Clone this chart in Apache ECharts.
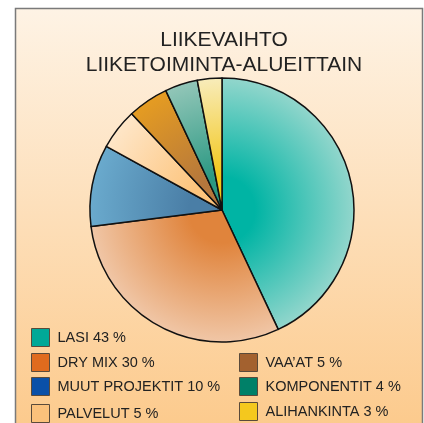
<!DOCTYPE html>
<html>
<head>
<meta charset="utf-8">
<script src="https://cdn.jsdelivr.net/npm/echarts@6/dist/echarts.min.js"></script>
<style>
  html, body { margin: 0; padding: 0; background: #fff; }
  #chart { width: 424px; height: 423px; }
</style>
</head>
<body>
<div id="chart"></div>
<script>
const titleLines = ['LIIKEVAIHTO', 'LIIKETOIMINTA-ALUEITTAIN']
const names = ['LASI', 'DRY MIX', 'MUUT PROJEKTIT', 'PALVELUT', 'VAA’AT', 'KOMPONENTIT', 'ALIHANKINTA']
const shares = [43, 30, 10, 5, 5, 4, 3]

// radial fill for each slice: centre -> rim
const innerColors = ['#00b4a4', '#e0843c', '#4a7ea6', '#fdc47c', '#b5773c', '#2a9882', '#f2c618']
const outerColors = ['#92d6cc', '#f0c6a6', '#6aaacd', '#fee6c8', '#e59c22', '#92c6b8', '#f8ecba']
// flat colours of the legend boxes
const legendColors = ['#00a897', '#e06b1e', '#0a50a8', '#fbc17b', '#a3612f', '#008068', '#f4c81e']

const cx = 222, cy = 210, rad = 132

const chart = echarts.init(document.getElementById('chart'))

const pieData = names.map((n, i) => ({
  name: n,
  value: shares[i],
  itemStyle: {
    color: {
      type: 'radial', x: cx, y: cy, r: rad, global: true,
      colorStops: [
        { offset: 0, color: innerColors[i] },
        { offset: 0.25, color: innerColors[i] },
        { offset: 1, color: outerColors[i] },
      ],
    },
  },
}))

// legend slot per item: [left, top]
const legendPos = [[31, 328], [31, 353], [31, 377], [31, 404], [239, 353], [239, 377], [239, 402]]

const legends = names.map((n, i) => ({
  data: [{ name: n, itemStyle: { color: legendColors[i], borderColor: '#5a4a3a', borderWidth: 1 } }],
  left: legendPos[i][0],
  top: legendPos[i][1],
  padding: 0,
  icon: 'rect',
  itemWidth: 18,
  itemHeight: 18,
  selectedMode: false,
  textStyle: {
    fontFamily: 'Liberation Sans, Arial, sans-serif',
    fontSize: 14.5,
    color: '#222',
    padding: [1, 0, 0, 3],
  },
  formatter: name => name + ' ' + shares[names.indexOf(name)] + ' %',
}))

chart.setOption({
  animation: false,
  graphic: [
    {
      type: 'rect',
      shape: { x: 15.5, y: 8.5, width: 407, height: 430 },
      style: {
        fill: {
          type: 'linear', x: 0, y: 0, x2: 0, y2: 1,
          colorStops: [
            { offset: 0, color: '#fef3e5' },
            { offset: 1, color: '#fcc98a' },
          ],
        },
        stroke: '#7a7a7a',
        lineWidth: 1.5,
      },
      z: -10,
    },
  ],
  title: {
    text: titleLines.join('\n'),
    left: 219,
    top: 23,
    textAlign: 'center',
    textStyle: {
      fontFamily: 'Liberation Sans, Arial, sans-serif',
      fontSize: 21,
      fontWeight: 'normal',
      color: '#222',
      lineHeight: 25,
    },
  },
  legend: legends,
  series: [
    {
      type: 'pie',
      center: [cx, cy],
      radius: rad,
      startAngle: 90,
      clockwise: true,
      label: { show: false },
      labelLine: { show: false },
      emphasis: { disabled: true },
      itemStyle: { borderColor: '#111', borderWidth: 1.5 },
      data: pieData,
    },
  ],
})
</script>
</body>
</html>
